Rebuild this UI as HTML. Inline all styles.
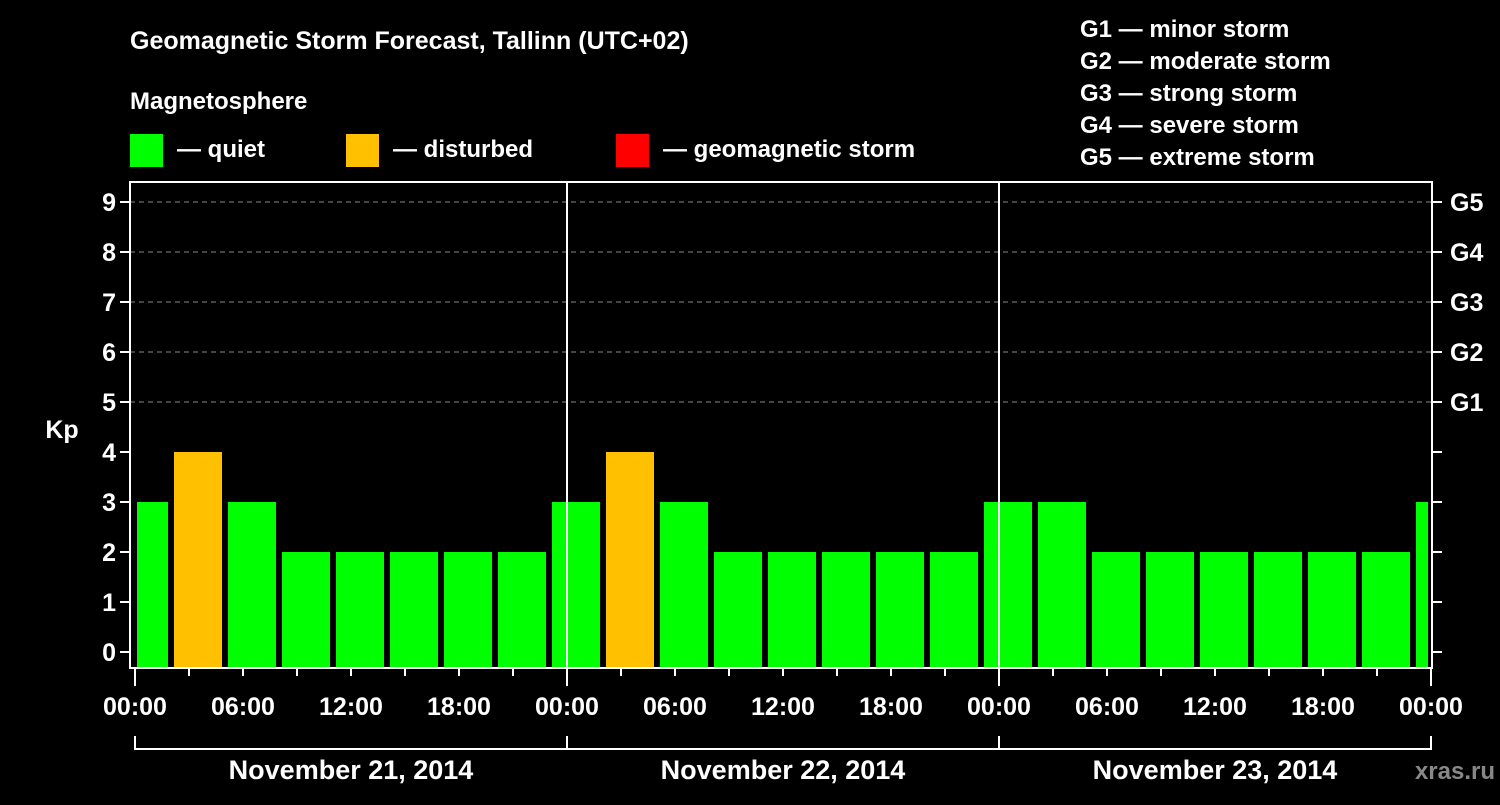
<!DOCTYPE html>
<html><head><meta charset="utf-8"><style>
body{margin:0;background:#000;width:1500px;height:800px;overflow:hidden}
svg text{font-family:"Liberation Sans",sans-serif;font-weight:bold;fill:#fff}
</style></head><body>
<svg width="1500" height="800">
<text x="130" y="49" font-size="25">Geomagnetic Storm Forecast, Tallinn (UTC+02)</text>
<text x="130" y="109" font-size="24">Magnetosphere</text>
<rect x="130" y="134" width="33" height="33" fill="#00ff00"/>
<text x="177" y="157" font-size="24">— quiet</text>
<rect x="346" y="134" width="33" height="33" fill="#ffc000"/>
<text x="393" y="157" font-size="24">— disturbed</text>
<rect x="616" y="134" width="33" height="33" fill="#ff0000"/>
<text x="663" y="157" font-size="24">— geomagnetic storm</text>
<g font-size="24">
<text x="1080" y="37">G1 — minor storm</text>
<text x="1080" y="69">G2 — moderate storm</text>
<text x="1080" y="101">G3 — strong storm</text>
<text x="1080" y="133">G4 — severe storm</text>
<text x="1080" y="165">G5 — extreme storm</text>
</g>
<g id="plot"></g>
<text x="62" y="438" font-size="25" text-anchor="middle">Kp</text>
<text x="1495" y="779" font-size="24" text-anchor="end" style="fill:#888">xras.ru</text>
</svg>
<script>
const kpValues=[3,4,3,2,2,2,2,2,3,4,3,2,2,2,2,2,3,3,2,2,2,2,2,2,3];
const startHour=-1;
const yTicks=[0,1,2,3,4,5,6,7,8,9];
const gLabels=["G1","G2","G3","G4","G5"];
const xTickLabels=["00:00","06:00","12:00","18:00","00:00","06:00","12:00","18:00","00:00","06:00","12:00","18:00","00:00"];
const dayLabels=["November 21, 2014","November 22, 2014","November 23, 2014"];
const NS="http://www.w3.org/2000/svg";
const g=document.getElementById('plot');
const X=h=>135+h*18, Y=v=>652-v*50;
const L=130,R=1432,T=182,B=668;
function mk(t,a,txt){const e=document.createElementNS(NS,t);for(const k in a)e.setAttribute(k,a[k]);if(txt!==undefined)e.textContent=txt;g.appendChild(e);return e;}
function col(v){return v>=5?'#ff0000':v>=4?'#ffc000':'#00ff00';}
kpValues.forEach((v,i)=>{
 const s=startHour+i*3;
 const x0=Math.max(X(s)+3,137), x1=Math.min(X(s+3)-3,1428);
 const r=mk('rect',{x:x0,y:Y(v),width:x1-x0,height:B-1-Y(v),fill:col(v)});
 
 
});
yTicks.forEach(v=>{
 if(v>=5){const d=mk('line',{x1:L,x2:R,y1:Y(v),y2:Y(v),stroke:'#888','stroke-dasharray':'5,4'});
 }
 mk('line',{x1:120,x2:L,y1:Y(v),y2:Y(v),stroke:'#fff','stroke-width':2});
 mk('line',{x1:R,x2:1442,y1:Y(v),y2:Y(v),stroke:'#fff','stroke-width':2});
 const t=mk('text',{x:116,y:Y(v)+9,'font-size':25,'text-anchor':'end'},v);
 
});
gLabels.forEach((l,i)=>{const t=mk('text',{x:1450,y:Y(5+i)+9,'font-size':25},l);
 });
for(let d=1;d<3;d++){mk('line',{x1:X(d*24),x2:X(d*24),y1:T,y2:B,stroke:'#fff','stroke-width':2});}
for(let h=0;h<=72;h+=3){const maj=h%24==0;mk('line',{x1:X(h),x2:X(h),y1:B,y2:maj?686:676,stroke:'#fff','stroke-width':2});}
xTickLabels.forEach((l,i)=>{const t=mk('text',{x:X(i*6),y:715,'font-size':25,'text-anchor':'middle'},l);
 });
mk('polyline',{points:`${X(0)},736 ${X(0)},749 ${X(72)},749 ${X(72)},736`,fill:'none',stroke:'#fff','stroke-width':2});
for(let d=1;d<3;d++)mk('line',{x1:X(d*24),x2:X(d*24),y1:736,y2:749,stroke:'#fff','stroke-width':2});
dayLabels.forEach((l,i)=>{const t=mk('text',{x:X(i*24+12),y:779,'font-size':27,'text-anchor':'middle'},l);
 });
const f=mk('rect',{x:L,y:T,width:R-L,height:B-T,fill:'none',stroke:'#fff','stroke-width':2});

</script>
</body></html>
